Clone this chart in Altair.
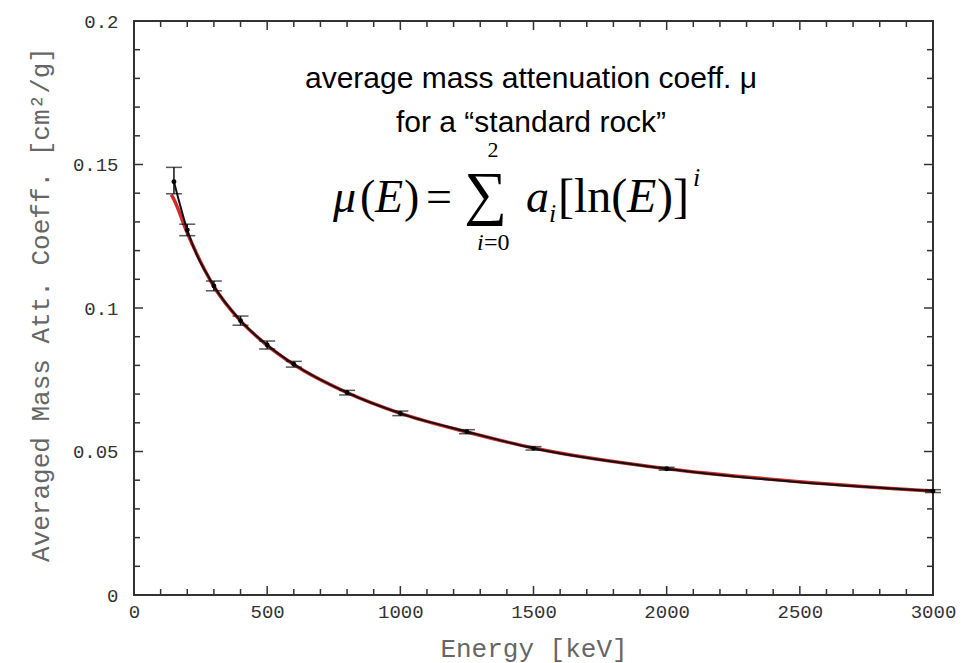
import altair as alt
import pandas as pd

# ---------------- data ----------------
energy = [150, 200, 300, 400, 500, 600, 800, 1000, 1250, 1500, 2000, 3000]
mu = [0.1440, 0.1272, 0.1077, 0.0956, 0.0871, 0.0804, 0.0705, 0.0633, 0.0569, 0.0511, 0.0440, 0.0362]
err_low = [0.0042, 0.0020, 0.0017, 0.0016, 0.0014, 0.0010, 0.0008, 0.0008, 0.0007, 0.0006, 0.0005, 0.0005]
err_high = [0.0050, 0.0020, 0.0017, 0.0016, 0.0014, 0.0010, 0.0008, 0.0008, 0.0007, 0.0006, 0.0005, 0.0005]

fit_energy = [140, 150, 200, 300, 400, 500, 600, 800, 1000, 1250, 1500, 2000, 2500, 3000]
fit_mu = [0.1395, 0.1378, 0.1262, 0.1075, 0.0955, 0.0870, 0.0803, 0.0705, 0.0633, 0.0568, 0.0512, 0.0440, 0.0395, 0.0362]

x_major = [0, 500, 1000, 1500, 2000, 2500, 3000]
x_minor = [100, 200, 300, 400, 600, 700, 800, 900, 1100, 1200, 1300, 1400, 1600, 1700,
           1800, 1900, 2100, 2200, 2300, 2400, 2600, 2700, 2800, 2900]
y_major = [0, 0.05, 0.1, 0.15, 0.2]
y_minor = [0.01, 0.02, 0.03, 0.04, 0.06, 0.07, 0.08, 0.09, 0.11, 0.12, 0.13, 0.14, 0.16, 0.17, 0.18, 0.19]

title_lines = ["average mass attenuation coeff. \u03bc", "for a \u201cstandard rock\u201d"]

# ---------------- layout ----------------
W, H = 799, 574
LEFT, TOP = 134, 21
MONO = "Liberation Mono"
SERIF = "Liberation Serif"

df = pd.DataFrame({"E": energy, "mu": mu})
df["lo"] = [m - e for m, e in zip(mu, err_low)]
df["hi"] = [m + e for m, e in zip(mu, err_high)]
fit_df = pd.DataFrame({"E": fit_energy, "mu": fit_mu})

x_scale = alt.Scale(domain=[0, 3000], nice=False, zero=False)
y_scale = alt.Scale(domain=[0, 0.2], nice=False, zero=False)

x_axis = alt.Axis(values=x_major, format="d", ticks=False, domain=False, grid=False,
                  labelFont=MONO, labelFontSize=19, labelColor="#333",
                  labelPadding=7, labelFlush=False,
                  titleFont=MONO, titleFontSize=26, titleFontWeight="normal",
                  titleColor="#666", titleX=W / 2, titleY=53,
                  titleBaseline="middle", titleAlign="center")
y_axis = alt.Axis(values=y_major, format="~g", ticks=False, domain=False, grid=False,
                  labelFont=MONO, labelFontSize=19, labelColor="#333",
                  labelPadding=16, labelFlush=False,
                  titleFont=MONO, titleFontSize=26, titleFontWeight="normal",
                  titleColor="#666", titleX=-94, titleY=283,
                  titleBaseline="middle", titleAlign="center")

X_TITLE = "Energy [keV]"
Y_TITLE = "Averaged Mass Att. Coeff. [cm\u00b2/g]"


def X(field="E"):
    return alt.X(f"{field}:Q", scale=x_scale, axis=x_axis, title=X_TITLE)


def Y(field="mu"):
    return alt.Y(f"{field}:Q", scale=y_scale, axis=y_axis, title=Y_TITLE)


# inward ticks on all four sides, drawn as short rules inside the frame
TICK_COLOR = "#333"
MAJOR_LEN, MINOR_LEN = 9, 6


def tick_table(values, field, length):
    return pd.DataFrame({field: values, "len": [length] * len(values)})


xt = pd.concat([tick_table(x_major[1:-1], "E", MAJOR_LEN), tick_table(x_minor, "E", MINOR_LEN)])
yt = pd.concat([tick_table(y_major[1:-1], "mu", MAJOR_LEN), tick_table(y_minor, "mu", MINOR_LEN)])

x_ticks_bottom = alt.Chart(xt).transform_calculate(
    y0=f"{H}", y1=f"{H} - datum.len").mark_rule(color=TICK_COLOR, strokeWidth=1.5).encode(
    x=X(), y=alt.Y("y0:Q", scale=None), y2="y1:Q")
x_ticks_top = alt.Chart(xt).transform_calculate(
    y0="0", y1="datum.len").mark_rule(color=TICK_COLOR, strokeWidth=1.5).encode(
    x=X(), y=alt.Y("y0:Q", scale=None), y2="y1:Q")
y_ticks_left = alt.Chart(yt).transform_calculate(
    x0="0", x1="datum.len").mark_rule(color=TICK_COLOR, strokeWidth=1.5).encode(
    y=Y(), x=alt.X("x0:Q", scale=None), x2="x1:Q")
y_ticks_right = alt.Chart(yt).transform_calculate(
    x0=f"{W}", x1=f"{W} - datum.len").mark_rule(color=TICK_COLOR, strokeWidth=1.5).encode(
    y=Y(), x=alt.X("x0:Q", scale=None), x2="x1:Q")

fit_line = alt.Chart(fit_df).mark_line(color="#d42a2a", strokeWidth=3.5,
                                       interpolate="monotone").encode(x=X(), y=Y())
data_line = alt.Chart(df).mark_line(color="#111", strokeWidth=2,
                                    interpolate="monotone").encode(x=X(), y=Y())
err_bars = alt.Chart(df).mark_rule(color="#111", strokeWidth=1.5).encode(
    x=X(), y=Y("lo"), y2="hi:Q")
cap_lo = alt.Chart(df).mark_tick(color="#111", orient="horizontal", size=16,
                                 thickness=1.5).encode(x=X(), y=Y("lo"))
cap_hi = alt.Chart(df).mark_tick(color="#111", orient="horizontal", size=16,
                                 thickness=1.5).encode(x=X(), y=Y("hi"))
points = alt.Chart(df).mark_point(filled=True, color="#000", size=24,
                                  opacity=1).encode(x=X(), y=Y())


# ---------------- annotation text ----------------
def label(text, px, py, size, font="Liberation Sans", style="normal", align="left"):
    return alt.Chart(alt.Data(values=[{"t": text}])).mark_text(
        font=font, fontSize=size, fontStyle=style, align=align,
        baseline="alphabetic", color="#000").encode(
        x=alt.value(px - LEFT), y=alt.value(py - TOP), text="t:N")


texts = [
    label(title_lines[0], 531, 88, 30, align="center"),
    label(title_lines[1], 531, 132, 30, align="center"),
    # formula  mu(E) = sum_{i=0}^{2} a_i [ln(E)]^i
    label("\u03bc", 333, 212, 46, SERIF, "italic"),
    label("(", 360, 212, 46, SERIF),
    label("E", 375, 212, 46, SERIF, "italic"),
    label(")", 404, 212, 46, SERIF),
    label("=", 426, 212, 46, SERIF),
    label("\u2211", 464, 213, 60, SERIF),
    label("2", 493, 157, 22, SERIF, align="center"),
    label("i", 477, 250, 24, SERIF, "italic"),
    label("=0", 484, 250, 24, SERIF),
    label("a", 526, 212, 46, SERIF, "italic"),
    label("i", 549, 222, 26, SERIF, "italic"),
    label("[ln(", 558, 212, 48, SERIF),
    label("E", 627, 212, 48, SERIF, "italic"),
    label(")]", 657, 212, 48, SERIF),
    label("i", 693, 186, 26, SERIF, "italic"),
]

chart = alt.layer(
    x_ticks_bottom, x_ticks_top, y_ticks_left, y_ticks_right,
    fit_line, data_line, err_bars, cap_lo, cap_hi, points, *texts
).properties(
    width=W, height=H,
    padding={"left": LEFT, "top": TOP, "right": 976 - LEFT - W, "bottom": 663 - TOP - H},
    autosize=alt.AutoSizeParams(type="none"),
    background="white",
).configure_view(stroke="#333", strokeWidth=2)

chart.save("out.html", embed_options={"renderer": "svg", "actions": False})
